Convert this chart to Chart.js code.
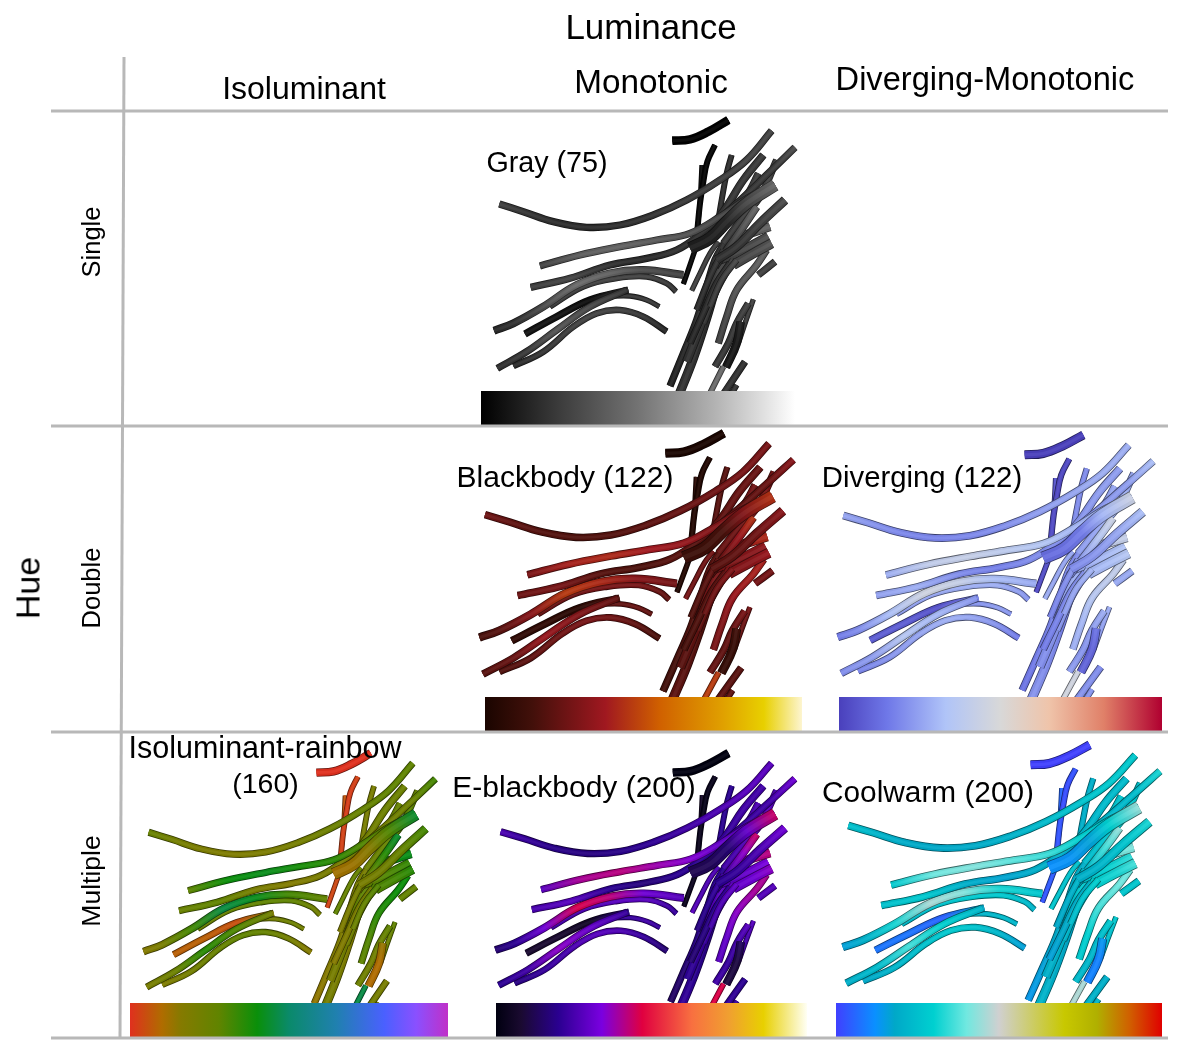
<!DOCTYPE html>
<html lang="en">

<head>
    <meta charset="UTF-8">
    <title>Colormaps on tubes</title>
    <script src="https://cdn.jsdelivr.net/npm/chart.js"></script>
    <style>
        html, body { margin: 0; background: #fff; }
        #wrap { position: relative; width: 1181px; height: 1044px; overflow: hidden; }
        #wrap div { position: absolute; white-space: nowrap; color: #000; font-family: "Liberation Sans", sans-serif; transform: translate(-50%, -50%); }
        #wrap div.side { transform: translate(-50%, -50%) rotate(-90deg); }
    </style>
</head>

<body>
    <div id="wrap"><canvas id="grafico" width="1181" height="1044"></canvas></div>
</body>

<script>
    // tube centre lines (crop units, 3 per pixel)
    const tubePaths = [
        [[785, 135], [770, 190], [755, 270], [745, 330]],
        [[695, 165], [692, 230], [688, 300], [683, 360]],
        [[735, 105], [712, 155], [700, 215], [690, 280], [682, 360]],
        [[682, 400], [665, 450], [640, 522]],
        [[607, 92], [660, 88], [715, 65], [775, 30]],
        [[755, 860], [825, 755]],
        [[780, 860], [800, 825]],
        [[715, 860], [760, 770]],
        [[600, 828], [640, 730], [680, 630], [710, 530], [735, 450], [765, 395]],
        [[625, 860], [670, 745], [705, 640], [735, 540], [760, 460], [795, 405]],
        [[650, 755], [690, 650], [720, 560], [750, 480], [785, 420]],
        [[665, 542], [690, 490], [720, 430], [745, 395]],
        [[745, 700], [770, 620], [800, 540], [860, 465], [890, 420]],
        [[805, 700], [825, 640], [850, 568]],
        [[735, 770], [775, 700], [800, 640], [835, 580]],
        [[768, 772], [800, 700], [812, 635]],
        [[865, 495], [915, 455]],
        [[740, 330], [770, 290], [820, 210], [880, 135]],
        [[745, 450], [820, 420], [895, 380]],
        [[790, 465], [850, 430], [905, 400]],
        [[770, 395], [840, 370], [900, 350]],
        [[800, 300], [840, 240], [865, 190]],
        [[760, 400], [820, 320], [870, 260], [920, 150]],
        [[735, 470], [770, 420], [820, 350], [860, 290]],
        [[680, 600], [720, 500], [760, 420]],
        [[700, 640], [740, 540], [790, 450]],
        [[660, 700], [700, 610], [740, 520], [780, 460]],
        [[720, 590], [755, 510], [800, 450]],
        [[400, 560], [480, 558], [530, 570], [568, 590]],
        [[130, 768], [220, 725], [310, 650], [380, 610], [450, 600], [520, 620], [590, 665]],
        [[165, 672], [260, 620], [360, 570], [475, 540]],
        [[240, 590], [340, 530], [440, 505], [530, 500], [590, 520], [618, 545]],
        [[72, 662], [130, 640], [220, 590], [320, 525], [420, 490], [520, 480], [640, 495]],
        [[82, 775], [170, 725], [260, 660], [360, 590], [470, 540]],
        [[182, 532], [300, 505], [420, 465], [530, 445], [620, 420], [700, 365], [800, 280], [900, 185], [975, 112]],
        [[210, 468], [330, 435], [450, 410], [560, 390], [660, 370], [750, 320], [840, 260], [915, 225]],
        [[740, 450], [800, 410], [870, 340], [945, 270]],
        [[660, 415], [720, 385], [770, 335], [830, 280], [915, 225]],
        [[88, 282], [160, 305], [250, 335], [350, 352], [450, 345], [550, 315], [650, 270], [750, 210], [830, 150], [905, 62]]
    ];

    // colormap position along each tube
    const tubeValues = [
        [.2, .2, .2, .2],
        [.06, .06, .06, .06],
        [.03, .02, .02, .03, .03],
        [.04, .04, .03],
        [0, 0, 0, 0],
        [.22, .2],
        [.22, .22],
        [.47, .46],
        [.14, .16, .18, .18, .2, .2],
        [.22, .2, .18, .2, .24, .24],
        [.2, .22, .26, .28, .28],
        [.28, .26, .26, .26],
        [.28, .3, .36, .4, .4],
        [.26, .24, .28],
        [.24, .22, .24, .28],
        [.1, .1, .14],
        [.27, .27],
        [.22, .22, .24, .24],
        [.26, .3, .34],
        [.3, .32, .36],
        [.34, .4, .42],
        [.24, .26, .26],
        [.24, .26, .3, .26],
        [.22, .24, .36, .44],
        [.18, .2, .24],
        [.22, .24, .3],
        [.16, .18, .2, .22],
        [.24, .26, .3],
        [.22, .22, .24, .22],
        [.18, .22, .26, .28, .26, .22, .16],
        [.08, .08, .05, .18],
        [.24, .26, .28, .28, .24, .22],
        [.16, .2, .32, .46, .42, .32, .27],
        [.2, .24, .36, .3, .22],
        [.25, .28, .2, .17, .2, .2, .22, .24, .32],
        [.28, .4, .42, .38, .35, .3, .28, .3],
        [.2, .22, .26, .32],
        [.12, .13, .16, .3, .44],
        [.26, .22, .19, .18, .19, .21, .24, .26, .28, .28]
    ];

    const tubeWidths = [18, 14, 18, 16, 26, 22, 18, 18, 22, 28, 28, 16, 22, 16, 22, 26, 22, 24, 30, 30, 28, 22, 22, 24, 20, 22, 22, 20, 16, 20, 22, 18, 24, 22, 22, 22, 28, 38, 22];

    // one panel per colormap
    const panelNames = ["Gray (75)", "Blackbody (122)", "Diverging (122)", "Isoluminant-rainbow", "(160)", "E-blackbody (200)", "Coolwarm (200)"];
    const luminanceLabels = ["Isoluminant", "Monotonic", "Diverging-Monotonic"];
    const hueLabels = ["Single", "Double", "Multiple"];

    const panelOriginX = [470, 454.4, 812.6, 120.2, 471.5, 817.4];
    const panelOriginY = [110, 423.5, 425.3, 743.7, 743.8, 735.3];
    const panelScaleX = [1, 1.043, 1.048, .97, .995, 1.054];
    const panelScaleY = [1, .97, .96, .942, .935, .96];

    const barStartX = [481, 485, 839, 130, 496, 836];
    const barEndX = [795, 802, 1162, 448, 807, 1162];
    const barMidY = [408, 714, 714, 1020, 1020, 1020];

    const colormaps = [
        [[0, "#000000"], [.25, "#3c3c3c"], [.5, "#737373"], [.75, "#b4b4b4"], [.9, "#e0e0e0"], [1, "#ffffff"]],
        [[0, "#1a0500"], [.15, "#42100a"], [.38, "#a01820"], [.55, "#d06000"], [.75, "#e0a000"], [.88, "#e8d000"], [1, "#fdf5d0"]],
        [[0, "#4a40bc"], [.15, "#6f78e8"], [.33, "#b0c4f8"], [.5, "#d8d8d8"], [.65, "#efc4aa"], [.82, "#e08068"], [1, "#b00030"]],
        [[0, "#e0301e"], [.1, "#b06c00"], [.16, "#857a00"], [.28, "#608400"], [.4, "#0a8f0a"], [.5, "#0a8a6a"], [.65, "#2080b0"], [.8, "#4a60ff"], [.9, "#8a50ff"], [1, "#c030c8"]],
        [[0, "#000010"], [.08, "#1a0a30"], [.2, "#2a0090"], [.34, "#7a00e0"], [.47, "#e00040"], [.63, "#f87040"], [.75, "#f0a030"], [.86, "#e8d000"], [1, "#fffff4"]],
        [[0, "#4040ff"], [.12, "#0a90ff"], [.18, "#00a8c8"], [.3, "#00d0d0"], [.4, "#70e8e0"], [.5, "#d0d0d0"], [.7, "#c8c800"], [.8, "#b0b000"], [.9, "#d06000"], [1, "#e00000"]]
    ];

    // layout lines of the table
    const ruleStart = [[51, 111], [51, 426], [51, 732], [51, 1038], [124, 57]];
    const ruleEnd = [[1168, 111], [1168, 426], [1168, 732], [1168, 1038], [120, 1038]];

    function hexRgb(h) {
        return [parseInt(h.slice(1, 3), 16), parseInt(h.slice(3, 5), 16), parseInt(h.slice(5, 7), 16)];
    }

    function corDe(mapa, t) {
        for (let i = 1; i < mapa.length; i++) {
            if (t <= mapa[i][0]) {
                const f = (t - mapa[i - 1][0]) / (mapa[i][0] - mapa[i - 1][0]);
                const a = hexRgb(mapa[i - 1][1]);
                const b = hexRgb(mapa[i][1]);
                return a.map((v, k) => v + (b[k] - v) * f);
            }
        }
        return hexRgb(mapa[mapa.length - 1][1]);
    }

    // k below 1 darkens, lift mixes some white in
    function tom(rgb, k, lift) {
        const c = rgb.map(v => Math.round(v * k + (255 - v * k) * lift));
        return `rgb(${c[0]},${c[1]},${c[2]})`;
    }

    function gradienteTubo(chart, pontos, valores, mapa, k, lift) {
        const sx = chart.scales.x;
        const sy = chart.scales.y;
        const n = pontos.length - 1;
        const x0 = sx.getPixelForValue(pontos[0].x), y0 = sy.getPixelForValue(pontos[0].y);
        const x1 = sx.getPixelForValue(pontos[n].x), y1 = sy.getPixelForValue(pontos[n].y);
        // scales have no size yet on the first pass
        if (!Number.isFinite(x0 + y0 + x1 + y1)) return '#000';
        const g = chart.ctx.createLinearGradient(x0, y0, x1, y1);
        const dd = (x1 - x0) ** 2 + (y1 - y0) ** 2;
        pontos.forEach((p, i) => {
            const px = sx.getPixelForValue(p.x), py = sy.getPixelForValue(p.y);
            const pos = ((px - x0) * (x1 - x0) + (py - y0) * (y1 - y0)) / dd;
            g.addColorStop(Math.min(1, Math.max(0, pos)), tom(corDe(mapa, valores[i]), k, lift));
        });
        return g;
    }

    function gradienteBarra(chart, inicio, fim, mapa) {
        const a = chart.scales.x.getPixelForValue(inicio);
        const b = chart.scales.x.getPixelForValue(fim);
        if (!Number.isFinite(a + b)) return '#000';
        const g = chart.ctx.createLinearGradient(a, 0, b, 0);
        mapa.forEach(s => g.addColorStop(s[0], s[1]));
        return g;
    }

    const datasets = [];

    function linha(data, width, color, tension) {
        datasets.push({
            data: data,
            borderWidth: width,
            borderColor: color,
            borderCapStyle: 'butt',
            borderJoinStyle: 'round',
            tension: tension,
            pointRadius: 0,
            fill: false
        });
    }

    panelOriginX.forEach((ox, p) => {
        const mapa = colormaps[p];
        tubePaths.forEach((path, i) => {
            const pontos = path.map(q => ({
                x: ox + panelScaleX[p] * q[0] / 3,
                y: panelOriginY[p] + panelScaleY[p] * q[1] / 3
            }));
            const w = tubeWidths[i] / 3 * panelScaleX[p];
            const vals = tubeValues[i];
            linha(pontos, w, c => gradienteTubo(c.chart, pontos, vals, mapa, .45, 0), .4);
            linha(pontos, w - 1.6, c => gradienteTubo(c.chart, pontos, vals, mapa, .96, 0), .4);
            linha(pontos, w * .35, c => gradienteTubo(c.chart, pontos, vals, mapa, 1, .05), .4);
        });
        // colour bar on top of the tubes running down into it
        const barra = [{ x: barStartX[p], y: barMidY[p] }, { x: barEndX[p], y: barMidY[p] }];
        linha(barra, 34, c => gradienteBarra(c.chart, barStartX[p], barEndX[p], mapa), 0);
    });

    ruleStart.forEach((a, i) => {
        linha([{ x: a[0], y: a[1] }, { x: ruleEnd[i][0], y: ruleEnd[i][1] }], 3, '#b8b8b8', 0);
    });

    // chart.js paints the first dataset last
    datasets.reverse();

    const grafico = new Chart(document.getElementById('grafico').getContext('2d'), {
        type: 'line',
        data: { datasets: datasets },
        options: {
            responsive: false,
            animation: false,
            events: [],
            layout: { padding: 0, autoPadding: false },
            plugins: { legend: { display: false }, tooltip: { enabled: false } },
            scales: {
                x: { type: 'linear', display: false, min: 0, max: 1181 },
                y: { type: 'linear', display: false, min: 0, max: 1044, reverse: true }
            }
        }
    });
    grafico.update();

    function texto(s, x, y, size, side) {
        const d = document.createElement('div');
        d.textContent = s;
        d.style.left = x + 'px';
        d.style.top = y + 'px';
        d.style.fontSize = size + 'px';
        if (side) d.className = 'side';
        document.getElementById('wrap').appendChild(d);
    }

    texto("Luminance", 651, 27, 35);
    texto("Hue", 28, 588, 34, true);
    [[304, 88, 32], [651, 82, 33.3], [985, 79, 32.6]].forEach((p, i) => texto(luminanceLabels[i], p[0], p[1], p[2]));
    [[242, 25.5], [588, 25.5], [881, 26.5]].forEach((p, i) => texto(hueLabels[i], 91, p[0], p[1], true));
    [[547, 162, 28.7], [565, 477, 30], [922, 477, 29.3], [265, 747, 30.5], [265.5, 783, 28.5], [574, 787, 30], [928, 792, 29.8]].forEach((p, i) => texto(panelNames[i], p[0], p[1], p[2]));
</script>

</html>
